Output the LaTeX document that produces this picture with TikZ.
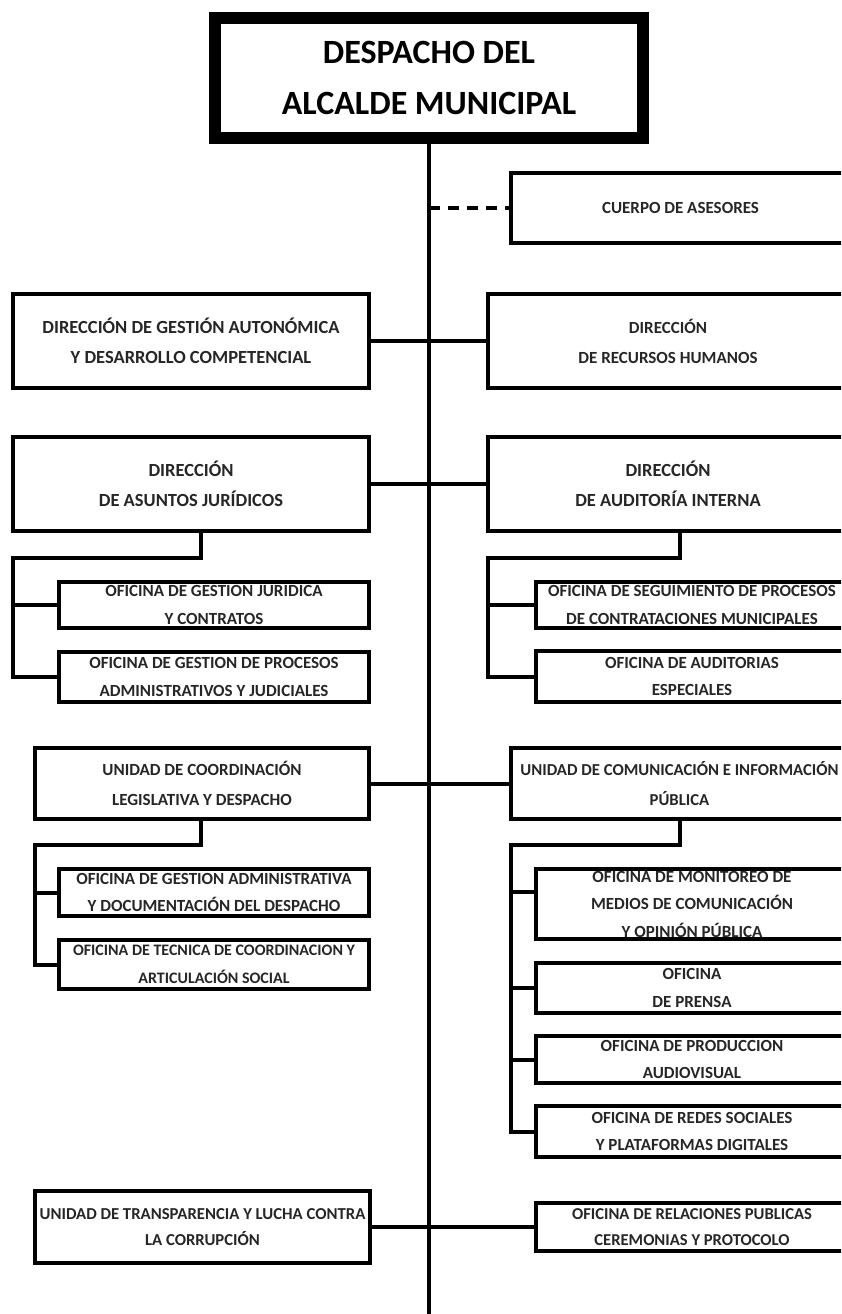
\documentclass[tikz,border=0pt]{standalone}
\usepackage{fontspec}
\setmainfont{Carlito}
\usepackage{tikz}
\usetikzlibrary{positioning}

\begin{document}
\begin{tikzpicture}[x=1pt, y=-1pt,
    every node/.style={inner sep=0pt, align=center},
    chief/.style={draw, line width=12pt, minimum width=428pt, minimum height=120pt,
        font=\fontsize{34}{51}\selectfont\bfseries},
    unitbox/.style={draw, line width=4pt, text=black!85,
        font=\fontsize{17}{30}\selectfont\bfseries},
    bigtext/.style={font=\fontsize{18.5}{30}\selectfont\bfseries},
    subbox/.style={unitbox, font=\fontsize{17}{27.5}\selectfont\bfseries},
    link/.style={line width=4pt},
    adviser/.style={line width=4pt, dash pattern=on 11pt off 8pt}]

    \useasboundingbox (0,0) rectangle (841,1314);
    \clip (0,0) rectangle (841,1314);

    % Head of the chart
    \node[chief] (alcalde) at (429,78) {DESPACHO DEL\\ALCALDE MUNICIPAL};
    \coordinate (trunkend) at (429,1316);
    \draw[link] (alcalde.south) -- (trunkend);

    % Advisers (dashed)
    \node[unitbox, minimum width=339pt, minimum height=70pt] (asesores) at (680.5,208) {CUERPO DE ASESORES};
    \draw[adviser] (alcalde.south |- asesores.west) -- (asesores.west);

    % First row of directions
    \node[unitbox, bigtext, minimum width=356pt, minimum height=94pt] (autonomica) at (191,341)
        {DIRECCIÓN DE GESTIÓN AUTONÓMICA\\Y DESARROLLO COMPETENCIAL};
    \node[unitbox, minimum width=360pt, minimum height=94pt] (rrhh) at (668,341)
        {DIRECCIÓN\\DE RECURSOS HUMANOS};
    \draw[link] (autonomica.east) -- (rrhh.west);

    % Second row: legal affairs and internal audit
    \node[unitbox, bigtext, minimum width=356pt, minimum height=94pt] (juridicos) at (191,484)
        {DIRECCIÓN\\DE ASUNTOS JURÍDICOS};
    \node[unitbox, bigtext, minimum width=360pt, minimum height=94pt] (auditoria) at (668,484)
        {DIRECCIÓN\\DE AUDITORÍA INTERNA};
    \draw[link] (juridicos.east) -- (auditoria.west);

    % Offices under legal affairs
    \node[subbox, minimum width=310pt, minimum height=46pt] (jurcontratos) at (214,605)
        {OFICINA DE GESTION JURIDICA\\Y CONTRATOS};
    \node[subbox, minimum width=310pt, minimum height=50pt] (jurprocesos) at (214,677)
        {OFICINA DE GESTION DE PROCESOS\\ADMINISTRATIVOS Y JUDICIALES};
    \coordinate (jurbus) at (13,558);
    \draw[link] ([xshift=10pt]juridicos.south) |- (jurbus) |- (jurprocesos.west);
    \draw[link] (jurbus |- jurcontratos.west) -- (jurcontratos.west);

    % Offices under internal audit
    \node[subbox, minimum width=312pt, minimum height=46pt] (audseguimiento) at (692,605)
        {OFICINA DE SEGUIMIENTO DE PROCESOS\\DE CONTRATACIONES MUNICIPALES};
    \node[subbox, minimum width=312pt, minimum height=51pt] (audespeciales) at (692,676.5)
        {OFICINA DE AUDITORIAS\\ESPECIALES};
    \coordinate (audbus) at (488,558);
    \draw[link] ([xshift=12pt]auditoria.south) |- (audbus) |- (audespeciales.west);
    \draw[link] (audbus |- audseguimiento.west) -- (audseguimiento.west);

    % Third row: coordination and communication units
    \node[unitbox, minimum width=334pt, minimum height=71pt] (coordinacion) at (202,783.5)
        {UNIDAD DE COORDINACIÓN\\LEGISLATIVA Y DESPACHO};
    \node[unitbox, minimum width=337pt, minimum height=71pt, font=\fontsize{16.7}{30}\selectfont\bfseries] (comunicacion) at (679.5,783.5)
        {UNIDAD DE COMUNICACIÓN E INFORMACIÓN\\PÚBLICA};
    \draw[link] (coordinacion.east) -- (comunicacion.west);

    % Offices under coordination
    \node[subbox, minimum width=310pt, minimum height=47pt] (coordocumentacion) at (214,892.5)
        {OFICINA DE GESTION ADMINISTRATIVA\\Y DOCUMENTACIÓN DEL DESPACHO};
    \node[subbox, minimum width=310pt, minimum height=49pt, font=\fontsize{16}{27.5}\selectfont\bfseries] (coorarticulacion) at (214,964.5)
        {OFICINA DE TECNICA DE COORDINACION Y\\ARTICULACIÓN SOCIAL};
    \coordinate (coorbus) at (35,845);
    \draw[link] ([xshift=-1pt]coordinacion.south) |- (coorbus) |- (coorarticulacion.west);
    \draw[link] (coorbus |- coordocumentacion.west) -- (coordocumentacion.west);

    % Offices under communication
    \node[subbox, minimum width=312pt, minimum height=70pt] (commonitoreo) at (692,904)
        {OFICINA DE MONITOREO DE\\MEDIOS DE COMUNICACIÓN\\Y OPINIÓN PÚBLICA};
    \node[subbox, minimum width=312pt, minimum height=50pt] (comprensa) at (692,988)
        {OFICINA\\DE PRENSA};
    \node[subbox, minimum width=312pt, minimum height=47pt] (comaudiovisual) at (692,1059.5)
        {OFICINA DE PRODUCCION\\AUDIOVISUAL};
    \node[subbox, minimum width=312pt, minimum height=51pt] (comredes) at (692,1131.5)
        {OFICINA DE REDES SOCIALES\\Y PLATAFORMAS DIGITALES};
    \coordinate (combus) at (511,845);
    \coordinate (comtap) at ([yshift=12pt]commonitoreo.west);
    \draw[link] ([xshift=0.5pt]comunicacion.south) |- (combus) |- (comredes.west);
    \draw[link] (combus |- comtap) -- (comtap);
    \draw[link] (combus |- comprensa.west) -- (comprensa.west);
    \draw[link] (combus |- comaudiovisual.west) -- (comaudiovisual.west);

    % Last row
    \node[unitbox, minimum width=335pt, minimum height=72pt, font=\fontsize{16.7}{26}\selectfont\bfseries] (transparencia) at (202.5,1227)
        {UNIDAD DE TRANSPARENCIA Y LUCHA CONTRA\\LA CORRUPCIÓN};
    \node[subbox, minimum width=312pt, minimum height=48pt, font=\fontsize{16.6}{26}\selectfont\bfseries] (relaciones) at (692,1227)
        {OFICINA DE RELACIONES PUBLICAS\\CEREMONIAS Y PROTOCOLO};
    \draw[link] (transparencia.east) -- (relaciones.west);

\end{tikzpicture}
\end{document}
